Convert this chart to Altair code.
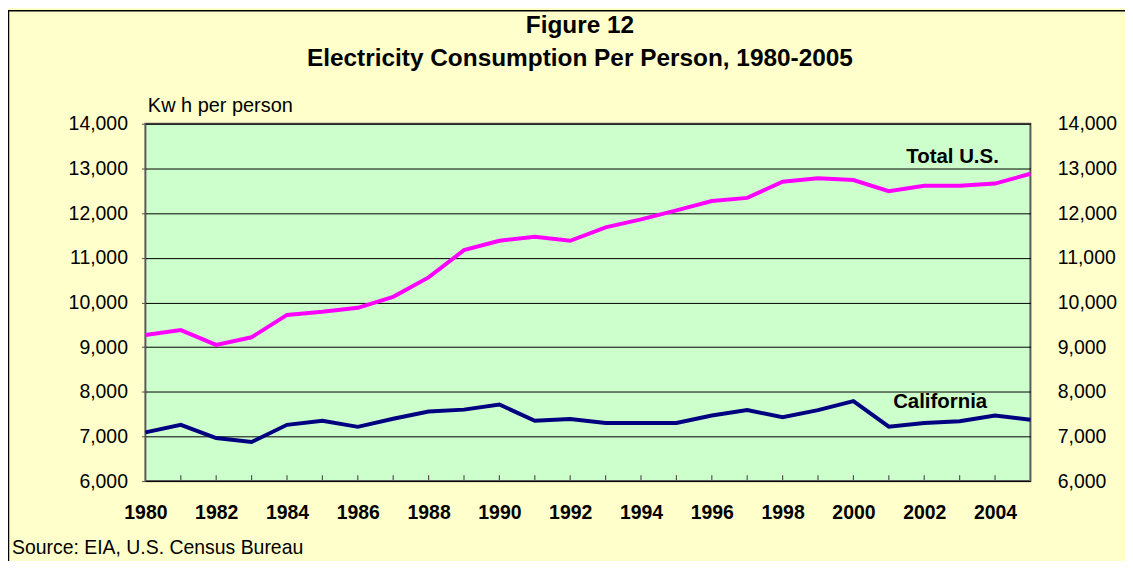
import altair as alt
import pandas as pd

years = list(range(1980, 2006))
total_us = [9270, 9380, 9050, 9220, 9720, 9790, 9880, 10125, 10560, 11170,
            11380, 11470, 11380, 11680, 11860, 12060, 12270, 12340, 12700, 12780,
            12740, 12490, 12610, 12610, 12660, 12880]
california = [7090, 7260, 6965, 6875, 7260, 7350, 7215, 7395, 7560, 7600,
              7715, 7350, 7390, 7300, 7300, 7300, 7470, 7590, 7430, 7590,
              7790, 7220, 7300, 7340, 7470, 7375]
series_names = ["Total U.S.", "California"]
series_colors = ["#FF00FF", "#000080"]
label_x = [2002.8, 2002.45]
label_y = [13265, 7770]
y_ticks = [6000, 7000, 8000, 9000, 10000, 11000, 12000, 13000, 14000]
x_label_years = list(range(1980, 2006, 2))
minor_tick_years = list(range(1981, 2005))
source_text = "Source: EIA, U.S. Census Bureau"
title_lines = ["Figure 12", "Electricity Consumption Per Person, 1980-2005"]

W, H = 889, 359
FONT = "Liberation Sans"

df = pd.DataFrame({
    "year": years * 2,
    "value": total_us + california,
    "series": [series_names[0]] * len(years) + [series_names[1]] * len(years),
})
labels_df = pd.DataFrame({"year": label_x, "value": label_y, "text": series_names})
ticks_df = pd.DataFrame({"year": minor_tick_years})
one_df = pd.DataFrame({"t": [source_text]})

xscale = alt.Scale(domain=[1980, 2005], nice=False, zero=False)
yscale = alt.Scale(domain=[6000, 14000], nice=False, zero=False)

x_axis = alt.Axis(values=x_label_years, format="d", title=None,
                  labelFont=FONT, labelFontSize=19.5, labelFontWeight="bold",
                  labelColor="black", ticks=False, domain=False, grid=False,
                  labelPadding=23, labelFlush=False, labelOverlap=False)

lines = alt.Chart(df).mark_line(strokeWidth=4).encode(
    x=alt.X("year:Q", scale=xscale, axis=x_axis),
    y=alt.Y("value:Q", scale=yscale,
            axis=alt.Axis(values=y_ticks, format=",d", title="Kw h per person",
                          titleAngle=0, titleAlign="left", titleBaseline="alphabetic",
                          titleX=2, titleY=-12, titleFont=FONT, titleFontSize=20,
                          titleFontWeight="normal", titleColor="black",
                          labelFont=FONT, labelFontSize=19.5, labelColor="black",
                          labelPadding=14, tickSize=4, tickColor="#555555",
                          domain=False, grid=True, gridColor="#000000", gridWidth=1,
                          labelFlush=False, labelOverlap=False)),
    color=alt.Color("series:N", scale=alt.Scale(domain=series_names, range=series_colors),
                    legend=None),
)

minor_ticks = alt.Chart(ticks_df).mark_rule(color="#555555", strokeWidth=1.2).encode(
    x=alt.X("year:Q", scale=xscale, axis=x_axis),
    y=alt.value(H),
    y2=alt.value(H - 6),
)

series_labels = alt.Chart(labels_df).mark_text(
    font=FONT, fontSize=20.5, fontWeight="bold", color="black", align="center",
    baseline="middle"
).encode(
    x=alt.X("year:Q", scale=xscale, axis=x_axis),
    y=alt.Y("value:Q", scale=yscale),
    text="text:N",
)

source = alt.Chart(one_df).mark_text(
    font=FONT, fontSize=19.5, color="black", align="left", baseline="alphabetic"
).encode(
    x=alt.value(-134), y=alt.value(432), text="t:N"
)

frame = alt.Chart(one_df).mark_rect(fillOpacity=0, stroke="black", strokeWidth=1.5).encode(
    x=alt.value(-137.5), x2=alt.value(1200), y=alt.value(-113.5), y2=alt.value(700)
)

inner = alt.layer(frame, lines, minor_ticks, series_labels, source)

right_axis = alt.Chart(df).mark_line(opacity=0).encode(
    x=alt.X("year:Q", scale=xscale, axis=x_axis),
    y=alt.Y("value:Q", scale=yscale,
            axis=alt.Axis(orient="right", values=y_ticks, format=",d", title=None,
                          labelFont=FONT, labelFontSize=19.5, labelColor="black",
                          labelPadding=27, ticks=False, domain=False, grid=False,
                          labelFlush=False, labelOverlap=False)),
    detail="series:N",
)

chart = alt.layer(inner, right_axis).resolve_scale(y="independent").properties(
    width=W, height=H,
    autosize=alt.AutoSizeParams(type="none"),
    padding={"left": 138, "top": 115, "right": 95, "bottom": 79},
    background="#FFFFCC",
    title=alt.TitleParams(title_lines, font=FONT, fontSize=24.5, fontWeight="bold",
                          color="black", anchor="middle", offset=-62, dx=-8,
                          lineHeight=33),
).configure_view(
    fill="#CCFFCC", stroke="#5a5a5a", strokeWidth=2
)

chart.save("out.html", embed_options={"renderer": "svg", "actions": False})
